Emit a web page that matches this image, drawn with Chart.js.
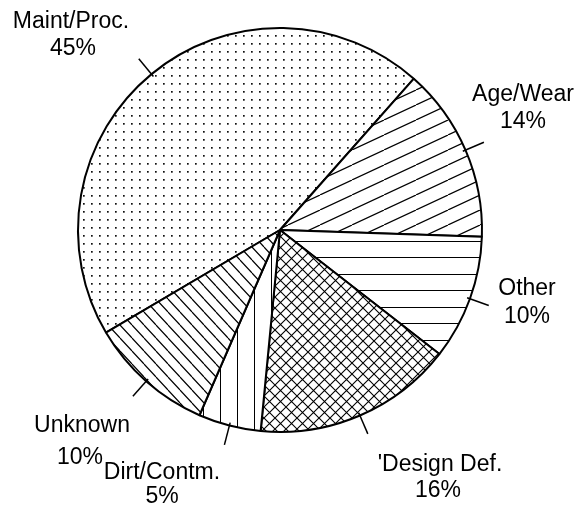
<!DOCTYPE html>
<html>
<head>
<meta charset="utf-8">
<script src="https://cdn.jsdelivr.net/npm/chart.js@4.4.1/dist/chart.umd.min.js"></script>
<style>
  html, body { margin: 0; padding: 0; background: #fff; }
  #wrap { width: 584px; height: 510px; }
</style>
</head>
<body>
<div id="wrap"><canvas id="pieChart" width="584" height="510"></canvas></div>
<script>
// slices, clockwise from the big one on the left
const categories = ["Maint/Proc.", "Age/Wear", "Other", "'Design Def.", "Dirt/Contm.", "Unknown"]
const shares = [45, 14, 10, 16, 5, 10]

// fill style of every slice
const hatchKind = ['dots', 'slantUp', 'horizontal', 'cross', 'vertical', 'slantDown']

// text placement: name line and percent line [centre x, baseline y]
const namePos = [[71, 28], [523, 101], [527, 295], [440, 471], [162, 479], [82, 432]]
const pctPos = [[73, 55], [523, 128], [527, 323], [438, 497], [162, 503], [80, 464]]

// small canvas used as a repeating tile
const makeTile = (w, h, draw) => {
    const c = document.createElement('canvas')
    c.width = w
    c.height = h
    const g = c.getContext('2d')
    g.fillStyle = '#fff'
    g.fillRect(0, 0, w, h)
    g.strokeStyle = '#000'
    g.fillStyle = '#000'
    g.lineWidth = 1
    draw(g)
    return c
}

// draw a set of segments [x1, y1, x2, y2]
const segs = (list, width) => (g) => {
    g.lineWidth = width || 1
    g.beginPath()
    list.forEach(s => { g.moveTo(s[0], s[1]); g.lineTo(s[2], s[3]) })
    g.stroke()
}

// build the pattern for one kind of hatch
const makePattern = (ctx, kind) => {
    let tile
    if (kind === 'dots') {
        tile = makeTile(8, 8, g => { g.fillStyle = '#111'; g.fillRect(3, 3, 1.7, 1.7) })
    } else if (kind === 'slantUp') {
        // rising lines, about 25 degrees
        tile = makeTile(32, 15, segs([[0, 15, 32, 0], [-32, 15, 0, 0], [32, 15, 64, 0]], 1.2))
    } else if (kind === 'slantDown') {
        // falling lines, about 47 degrees
        tile = makeTile(12, 13, segs([[0, 0, 12, 13], [-12, 0, 0, 13], [12, 0, 24, 13]], 1.2))
    } else if (kind === 'horizontal') {
        tile = makeTile(16, 33, segs([[-2, 10.5, 18, 10.5], [-2, 26.5, 18, 26.5]]))
    } else if (kind === 'vertical') {
        tile = makeTile(17, 16, segs([[16.5, -2, 16.5, 18]]))
    } else {
        tile = makeTile(11, 11, segs([[-1, -1, 12, 12], [12, -1, -1, 12]], 1.1))
    }
    return ctx.createPattern(tile, 'repeat')
}

// leader ticks from the rim and the two-line labels
const labelPlugin = {
    id: 'sliceLabels',
    afterDatasetsDraw(chart) {
        const ctx = chart.ctx
        const arcs = chart.getDatasetMeta(0).data
        ctx.save()
        ctx.strokeStyle = '#000'
        ctx.lineWidth = 1.5
        arcs.forEach(arc => {
            const { x, y, startAngle, endAngle, outerRadius } =
                arc.getProps(['x', 'y', 'startAngle', 'endAngle', 'outerRadius'], true)
            const mid = (startAngle + endAngle) / 2
            ctx.beginPath()
            ctx.moveTo(x + Math.cos(mid) * (outerRadius - 3), y + Math.sin(mid) * (outerRadius - 3))
            ctx.lineTo(x + Math.cos(mid) * (outerRadius + 20), y + Math.sin(mid) * (outerRadius + 20))
            ctx.stroke()
        })
        ctx.fillStyle = '#000'
        ctx.font = '23px "Liberation Sans", Arial, Helvetica, sans-serif'
        ctx.textAlign = 'center'
        ctx.textBaseline = 'alphabetic'
        categories.forEach((name, i) => {
            ctx.fillText(name, namePos[i][0], namePos[i][1])
            ctx.fillText(shares[i] + '%', pctPos[i][0], pctPos[i][1])
        })
        ctx.restore()
    }
}

const ctx = document.getElementById('pieChart').getContext('2d')
const fills = hatchKind.map(k => makePattern(ctx, k))

new Chart(ctx, {
    type: 'pie',
    data: {
        labels: categories,
        datasets: [{
            data: shares,
            backgroundColor: fills,
            borderColor: '#000',
            borderWidth: 2
        }]
    },
    options: {
        responsive: false,
        animation: false,
        events: [],
        rotation: -120.5,
        layout: { padding: { left: 77, top: 27, right: 101, bottom: 77 } },
        plugins: {
            legend: { display: false },
            tooltip: { enabled: false }
        }
    },
    plugins: [labelPlugin]
})
</script>
</body>
</html>
